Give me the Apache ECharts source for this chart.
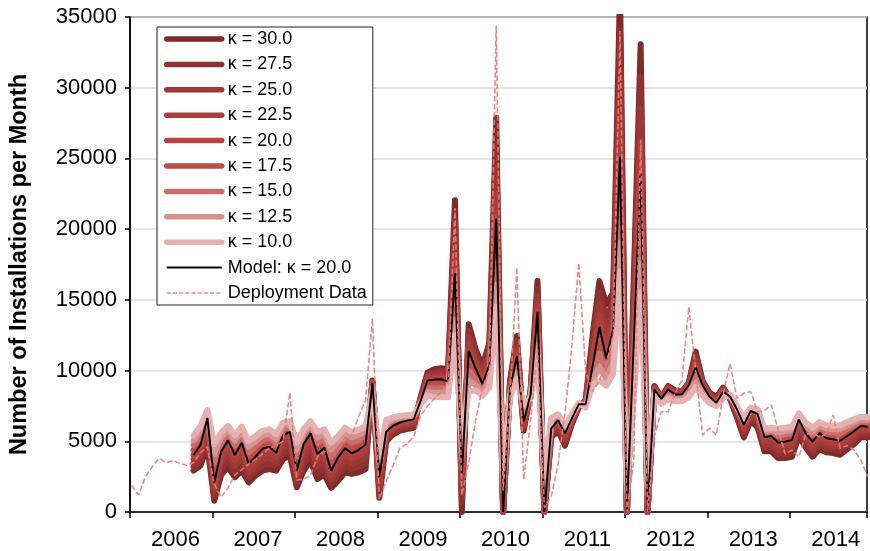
<!DOCTYPE html>
<html>
<head>
<meta charset="utf-8">
<script src="https://cdn.jsdelivr.net/npm/echarts@6/dist/echarts.min.js"></script>
<style>
html,body{margin:0;padding:0;background:#fff;}
#c{width:870px;height:551px;}
</style>
</head>
<body>
<div id="c"></div>
<script>
// ---- data (monthly, index 0 = Jan 2006) ----
const years = [2006, 2007, 2008, 2009, 2010, 2011, 2012, 2013, 2014];
const modelStartMonth = 9; // model / kappa series start in Oct 2006

const deployment = [
  1860,1200,2500,3200,3800,3490,3630,3440,3300,3500,
  4200,4600,2000,1050,1700,2600,3000,3400,3700,4100,
  4500,4700,5000,8450,2260,2310,2600,3910,4270,4500,
  4740,5090,5440,6740,7920,13700,900,2200,3300,4550,
  4800,5300,6800,7500,8000,8500,9000,21500,1200,3500,
  6500,8800,10000,34400,1500,8000,17300,2300,6500,11500,
  300,1100,3400,7000,11700,17600,10000,8500,9300,10500,
  12500,34000,0,3700,26300,0,5400,7090,7090,8400,
  9300,14500,10000,5440,5920,5440,8300,10500,8040,8390,
  8510,7090,7160,7570,5800,4100,4380,3900,5500,5600,
  5300,5500,6870,4500,4700,4400,3680,2500
];

const model = [
  4030,4740,6650,2100,4270,5060,4030,4900,3400,3910,
  4470,4620,4180,5420,5680,2950,4800,5560,4100,4550,
  2920,3850,4500,4150,4400,4760,
  9100,2500,5680,6100,6330,6460,6550,7850,9300,9360,9390,9230,
  16880,2730,11410,10150,9050,10390,20750,0,8690,11000,6390,8330,14160,0,
  5920,6500,5560,6620,7610,7610,10280,13100,10870,12900,25120,0,12000,23950,0,
  8650,8000,8670,8300,8320,8980,10230,8980,8160,7730,
  8510,8160,7260,6150,7140,6930,5280,5370,4900,4970,
  5090,6550,5560,4970,5580,5210,5140,5040,5370,5700,
  6080,6030
];

const k300 = [
  2920,3280,4700,800,2640,3160,2450,2920,2100,2570,
  2920,3040,2920,3750,3980,1750,2920,3630,2330,2640,
  1700,2210,2810,2690,2810,3040,
  9300,1000,5000,5500,5750,5870,5950,8100,9850,10090,10160,10090,
  22040,0,13270,11500,10320,11970,27880,0,9260,12440,5750,8600,16330,0,
  5280,5750,4690,6220,7400,7900,12440,16330,14680,15510,37000,0,16500,33070,0,
  8910,8080,8910,8600,8500,9150,11340,9260,8450,8100,
  8800,8000,6690,5280,6460,5990,4290,4290,3820,3820,
  3910,5400,4570,3910,4450,4220,4170,4050,4450,4810,
  5280,5280
];
const k275 = [
  3200,3650,5190,1130,3050,3640,2850,3420,2430,2910,
  3310,3440,3240,4170,4410,2050,3390,4110,2770,3120,
  2010,2620,3230,3060,3210,3470,
  9250,1380,5170,5650,5900,6020,6100,8040,9710,9910,9970,9880,
  20750,680,12810,11160,10000,11580,26100,0,9120,12080,5910,8530,15790,0,
  5440,5940,4910,6320,7450,7830,11900,15520,13730,14860,34030,0,15380,30790,0,
  8850,8060,8850,8530,8460,9110,11060,9190,8380,8010,
  8730,8040,6830,5500,6630,6230,4540,4560,4090,4110,
  4200,5690,4820,4180,4730,4470,4410,4300,4680,5030,
  5480,5470
];
const k250 = [
  3480,4010,5680,1450,3460,4110,3240,3910,2750,3240,
  3700,3830,3550,4590,4830,2350,3860,4600,3220,3600,
  2310,3030,3660,3420,3610,3900,
  9200,1750,5340,5800,6040,6170,6250,7980,9580,9730,9780,9660,
  19460,1370,12340,10830,9690,11180,24320,0,8980,11720,6070,8470,15250,0,
  5600,6130,5130,6420,7510,7760,11360,14720,12780,14210,31060,0,14250,28510,0,
  8780,8040,8790,8450,8410,9070,10790,9120,8310,7920,
  8660,8080,6980,5720,6800,6460,4790,4830,4360,4400,
  4500,5980,5070,4440,5020,4720,4660,4550,4910,5260,
  5680,5660
];
const k225 = [
  3750,4380,6160,1780,3860,4590,3640,4410,3080,3580,
  4080,4230,3870,5000,5260,2650,4330,5080,3660,4070,
  2620,3440,4080,3790,4000,4330,
  9150,2130,5510,5950,6190,6310,6400,7910,9440,9540,9580,9450,
  18170,2050,11880,10490,9370,10790,22530,0,8830,11360,6230,8400,14700,0,
  5760,6310,5340,6520,7560,7680,10820,13910,11820,13550,28090,0,13130,26230,0,
  8720,8020,8730,8380,8370,9020,10510,9050,8230,7820,
  8580,8120,7120,5930,6970,6700,5030,5100,4630,4680,
  4800,6260,5310,4710,5300,4960,4900,4790,5140,5480,
  5880,5840
];
const k200 = model;
const k175 = [
  4380,5080,6790,2770,4610,5320,4380,5180,3810,4280,
  4790,4930,4510,5650,5870,3440,5060,5780,4490,4880,
  3420,4230,4870,4530,4750,5090,
  8930,2880,5890,6250,6450,6560,6640,7790,9030,9050,9070,8950,
  15790,3300,10700,9760,8850,10000,19190,750,8560,10600,6690,8270,13370,630,
  6110,6600,5690,6690,7630,7560,9960,12150,10390,12120,23090,500,11000,21840,630,
  8550,7910,8500,8180,8200,8760,9880,8790,8050,7670,
  8400,8200,7320,6250,7200,7010,5430,5520,5150,5220,
  5330,6660,5750,5220,5780,5440,5380,5310,5620,5910,
  6250,6200
];
const k150 = [
  4730,5410,6930,3450,4940,5570,4730,5470,4210,4640,
  5100,5240,4840,5870,6060,3930,5330,6000,4880,5200,
  3910,4610,5230,4910,5100,5420,
  8750,3250,6090,6400,6570,6660,6730,7730,8770,8740,8750,8670,
  14690,3870,10000,9370,8640,9610,17630,1500,8430,10200,6980,8220,12580,1250,
  6300,6710,5820,6770,7660,7510,9630,11200,9900,11330,21060,1000,10000,19730,1250,
  8440,7820,8330,8070,8080,8550,9530,8610,7930,7620,
  8280,8230,7380,6350,7260,7100,5590,5670,5400,5470,
  5560,6770,5940,5470,5970,5670,5610,5590,5870,6130,
  6410,6370
];
const k125 = [
  5070,5750,7070,4120,5280,5830,5070,5750,4620,5010,
  5420,5540,5160,6100,6240,4410,5590,6210,5270,5530,
  4410,4990,5600,5280,5450,5750,
  8580,3630,6300,6550,6680,6750,6810,7660,8500,8420,8430,8390,
  13600,4430,9290,8970,8440,9210,16060,2250,8290,9800,7280,8160,11790,1880,
  6480,6810,5950,6840,7680,7450,9310,10250,9420,10550,19030,1500,9000,17610,1880,
  8340,7730,8160,7950,7950,8330,9170,8420,7820,7560,
  8170,8270,7440,6450,7320,7180,5740,5810,5640,5710,
  5800,6870,6130,5710,6170,5900,5850,5860,6110,6340,
  6580,6530
];
const k100 = [
  5420,6080,7210,4790,5610,6080,5420,6030,5020,5370,
  5730,5850,5490,6320,6430,4900,5850,6430,5660,5850,
  4900,5370,5960,5660,5800,6080,
  8400,4000,6500,6700,6800,6850,6900,7600,8230,8110,8110,8110,
  12500,5000,8580,8580,8230,8820,14500,3000,8160,9400,7570,8100,11000,2500,
  6670,6910,6080,6910,7700,7400,8980,9300,8930,9760,17000,2000,8000,15500,2500,
  8230,7640,7990,7830,7830,8110,8820,8230,7700,7500,
  8050,8300,7500,6550,7380,7260,5890,5960,5890,5960,
  6030,6980,6320,5960,6360,6130,6080,6130,6360,6550,
  6740,6700
];

const kappaLabels = ['κ = 30.0','κ = 27.5','κ = 25.0','κ = 22.5','κ = 20.0','κ = 17.5','κ = 15.0','κ = 12.5','κ = 10.0'];
const kappaData = [k300, k275, k250, k225, k200, k175, k150, k125, k100];

// ---- build ----
function monthX(i) { return 2006 + (i + 0.25) / 12; }
const kappaColors = ['#7e2b2a','#8f3231','#9e3835','#aa3e3b','#b54542','#c04b47','#ca6e6c','#d59391','#e6b2b1'];
const FONT = "'Liberation Sans', Arial, sans-serif";
const DEPLOY_COLOR = '#ee7a7a';

const series = [];
const legendData = [];
kappaData.forEach((arr, k) => {
  series.push({
    name: kappaLabels[k], type: 'line', symbol: 'none', silent: true,
    data: arr.map((v, j) => [monthX(j + modelStartMonth), v]),
    lineStyle: { width: 6, color: kappaColors[k], cap: 'round', join: 'round' },
    itemStyle: { color: kappaColors[k] }
  });
  legendData.push({ name: kappaLabels[k], lineStyle: { width: 5.5, color: kappaColors[k], cap: 'round' } });
});
series.push({
  name: 'Model: κ = 20.0', type: 'line', symbol: 'none', silent: true,
  data: model.map((v, j) => [monthX(j + modelStartMonth), v]),
  lineStyle: { width: 2, color: '#000' }, itemStyle: { color: '#000' }
});
legendData.push({ name: 'Model: κ = 20.0', lineStyle: { width: 2, color: '#000', cap: 'butt' } });
series.push({
  name: 'Deployment Data', type: 'line', symbol: 'none', silent: true,
  data: deployment.map((v, i) => [monthX(i), v]),
  lineStyle: { width: 1.6, color: DEPLOY_COLOR, type: [5.5, 2.4], opacity: 0.9 }, itemStyle: { color: DEPLOY_COLOR }
});
legendData.push({ name: 'Deployment Data', lineStyle: { width: 1.6, color: DEPLOY_COLOR, type: [4, 2.2], cap: 'butt' } });

const chart = echarts.init(document.getElementById('c'), null, { renderer: 'canvas' });
chart.setOption({
  animation: false,
  textStyle: { fontFamily: FONT },
  grid: { left: 128, right: 0, top: 17, bottom: 39, show: true, borderColor: '#000', borderWidth: 1.5, backgroundColor: 'transparent' },
  legend: {
    orient: 'vertical', left: 157, top: 27,
    itemWidth: 55, itemHeight: 12, itemGap: 7.4,
    padding: [3, 6, 3, 7],
    borderColor: '#222', borderWidth: 1, backgroundColor: '#fff',
    itemStyle: { opacity: 0 },
    textStyle: { fontSize: 18, color: '#000', fontFamily: FONT, padding: [0, 0, 0, 1] },
    data: legendData
  },
  xAxis: {
    type: 'value', min: 2006, max: 2014.93, interval: 1,
    axisLine: { lineStyle: { color: '#000', width: 1.5 } },
    axisTick: { show: true, length: 6, lineStyle: { color: '#000', width: 1.5 } },
    splitLine: { show: false },
    axisLabel: {
      formatter: v => years.indexOf(v) >= 0 ? String(v) : '',
      align: 'left', padding: [0, 0, 0, 21], margin: 17,
      fontSize: 22, color: '#000', fontFamily: FONT
    }
  },
  yAxis: {
    type: 'value', min: 0, max: 35000, interval: 5000,
    name: 'Number of Installations per Month', nameLocation: 'middle', nameGap: 98,
    nameTextStyle: { fontSize: 23.5, fontWeight: 'bold', color: '#000', fontFamily: FONT },
    axisLine: { show: true, lineStyle: { color: '#000', width: 1.5 } },
    axisTick: { show: true, length: 5, lineStyle: { color: '#000', width: 1.5 } },
    splitLine: { show: true, lineStyle: { color: '#dcdcdc', width: 1.5 } },
    axisLabel: { fontSize: 22, color: '#000', margin: 13, fontFamily: FONT, formatter: v => String(v) }
  },
  series: series
});
</script>
</body>
</html>
